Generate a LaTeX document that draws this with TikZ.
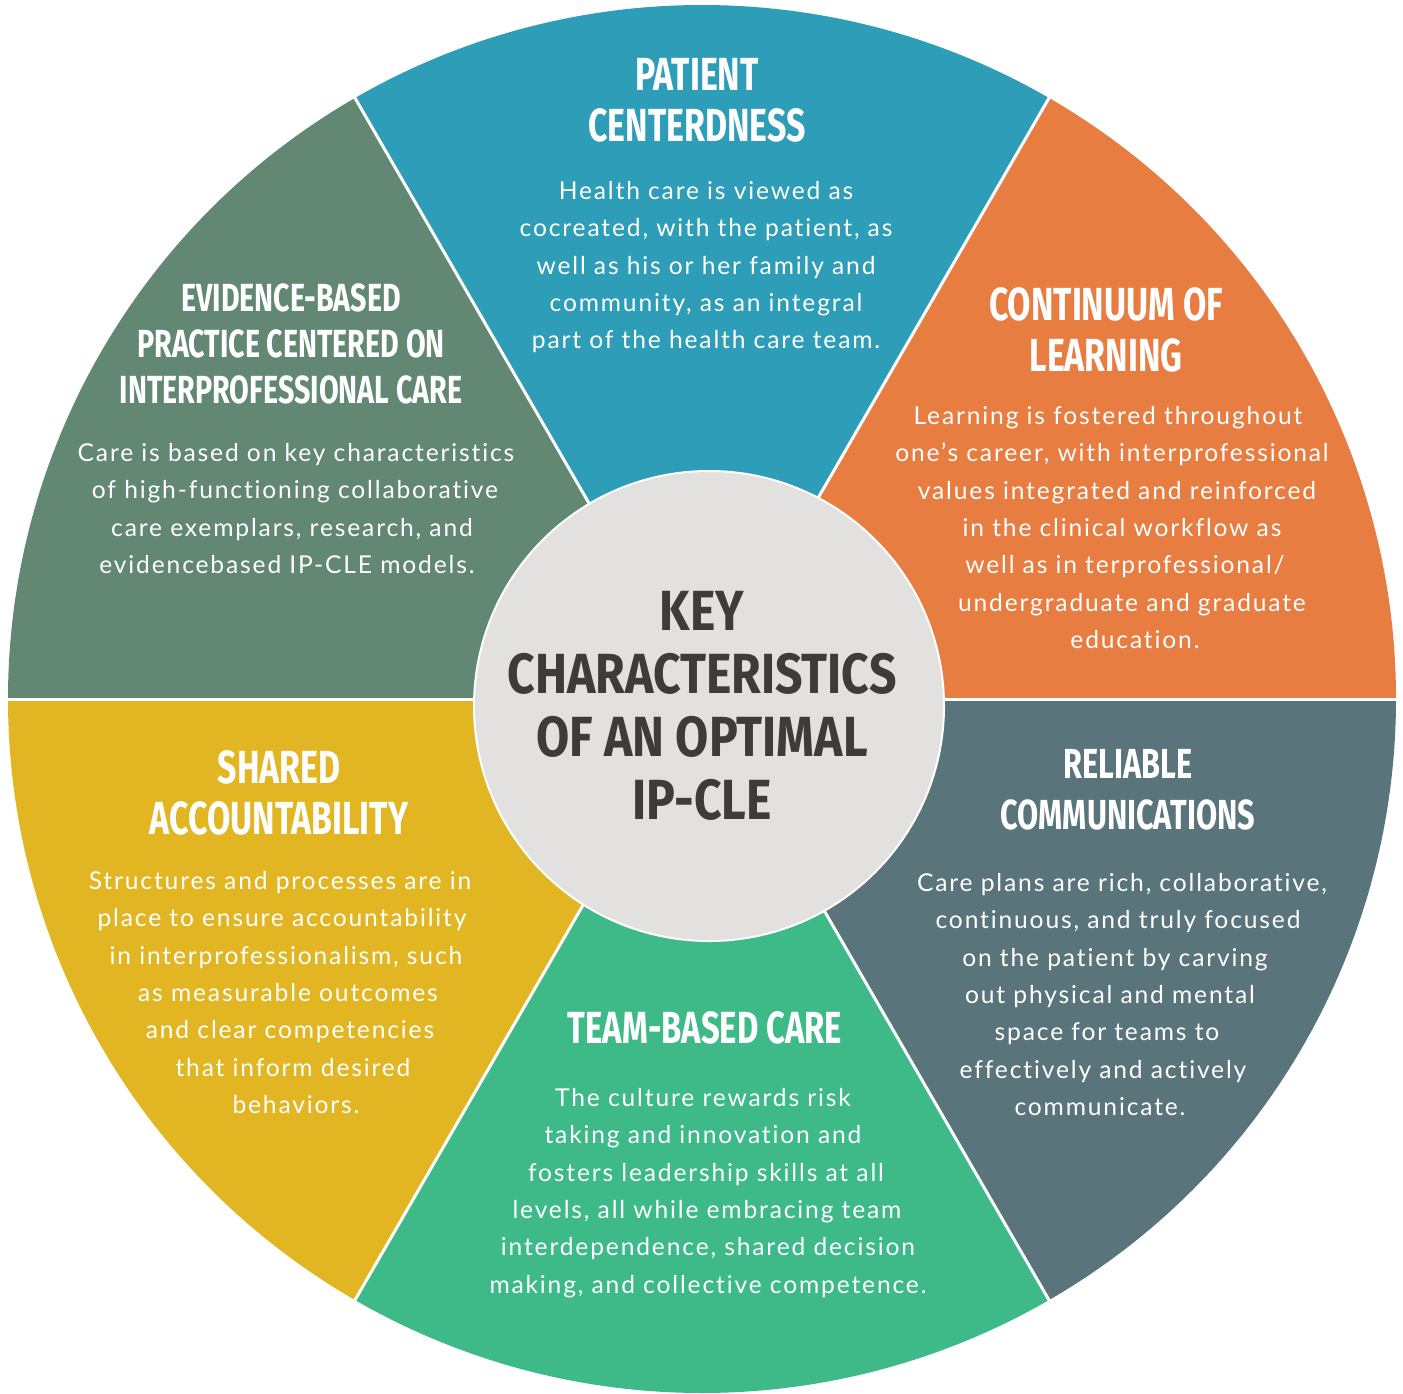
\documentclass[tikz,border=0pt]{standalone}
\usepackage{fontspec}
\setmainfont{Lato}[LetterSpace=7.5, Ligatures=NoCommon]
\newfontfamily\headfont{Fira Sans}[FakeStretch=0.73]
\newfontfamily\keyfont{Fira Sans}[FakeStretch=0.85]
\newcommand\nudge[1]{\hspace*{#1pt}}
\definecolor{patient}{HTML}{2E9DB7}
\definecolor{learning}{HTML}{E87D42}
\definecolor{reliable}{HTML}{5A747C}
\definecolor{team}{HTML}{3EBA89}
\definecolor{shared}{HTML}{E2B623}
\definecolor{evidence}{HTML}{628874}
\definecolor{hubgrey}{HTML}{E2E1DF}
\definecolor{keytext}{HTML}{3D3C3B}
\tikzset{
  head/.style={text=white, align=center, inner sep=0pt, font=\headfont\bfseries\fontsize{23.2}{25.5}\selectfont},
  body/.style={text=white, align=center, inner sep=0pt, anchor=north, font=\fontsize{12.3}{18.65}\selectfont},
}
\begin{document}
\begin{tikzpicture}[x=0.5pt,y=-0.5pt]
\useasboundingbox (0,0) rectangle (1403,1393);
\coordinate (C) at (702,699);
% the six sectors
\foreach \a/\c in {240/patient,300/learning,0/reliable,60/team,120/shared,180/evidence}
   \fill[\c] (C) -- ++(\a:694) arc[start angle=\a, delta angle=60, radius=694] -- cycle;
\foreach \a in {0,60,...,300}
   \draw[white, line width=1.5pt] (C) -- ++(\a:697);
% hub
\node[circle, fill=hubgrey, draw=white, line width=1pt, minimum size=235pt, inner sep=0pt] (hub) at (709,706) {};
\node[font=\keyfont\bfseries\fontsize{28.3}{31.5}\selectfont, text=keytext, align=center, inner sep=0pt] (key) at (702,706) {KEY\\CHARACTERISTICS\\OF AN OPTIMAL\\IP-CLE};

% headings
\node[head] (patientH) at (697,100) {PATIENT\\CENTERDNESS};
\node[head] (learningH) at (1106,330) {CONTINUUM OF\\LEARNING};
\node[head, font=\headfont\bfseries\fontsize{19.6}{23}\selectfont] (evidenceH) at (291,344) {EVIDENCE-BASED\\PRACTICE CENTERED ON\\INTERPROFESSIONAL CARE};
\node[head] (sharedH) at (279,793) {SHARED\\ACCOUNTABILITY};
\node[head, font=\headfont\bfseries\fontsize{21}{25.5}\selectfont] (reliableH) at (1128,790) {RELIABLE\\COMMUNICATIONS};
\node[head, font=\headfont\bfseries\fontsize{22.5}{25.5}\selectfont] (teamH) at (705,1028) {TEAM-BASED CARE};

% texts
\node[body] (patientB) at (706,181) {Health care is viewed as\\cocreated, with the patient, as\\well as his or her family and\\community, as an integral\\part of the health care team.};
\node[body] (learningB) at (1120,406) {\nudge{-12}Learning is fostered throughout\\\nudge{-8}one’s career, with interprofessional\\\nudge{-3}values integrated and reinforced\\\nudge{2}in the clinical workflow as\\\nudge{5}well as in terprofessional/\\\nudge{12}undergraduate and graduate\\\nudge{15}education.};
\node[body] (evidenceB) at (296,443) {Care is based on key characteristics\\\nudge{-1}of high-functioning collaborative\\\nudge{-4}care exemplars, research, and\\\nudge{-9}evidencebased IP-CLE models.};
\node[body] (sharedB) at (287,871) {\nudge{-7}Structures and processes are in\\\nudge{-5}place to ensure accountability\\\nudge{-1}in interprofessionalism, such\\\nudge{1}as measurable outcomes\\\nudge{3}and clear competencies\\\nudge{6}that inform desired\\\nudge{9}behaviors.};
\node[body] (reliableB) at (1111,873) {\nudge{11}Care plans are rich, collaborative,\\\nudge{7}continuous, and truly focused\\\nudge{4}on the patient by carving\\\nudge{-1}out physical and mental\\\nudge{-4}space for teams to\\\nudge{-8}effectively and actively\\\nudge{-11}communicate.};
\node[body] (teamB) at (706,1088) {\nudge{-3}The culture rewards risk\\\nudge{-3}taking and innovation and\\fosters leadership skills at all\\\nudge{1}levels, all while embracing team\\\nudge{2}interdependence, shared decision\\\nudge{2}making, and collective competence.};
\end{tikzpicture}
\end{document}
